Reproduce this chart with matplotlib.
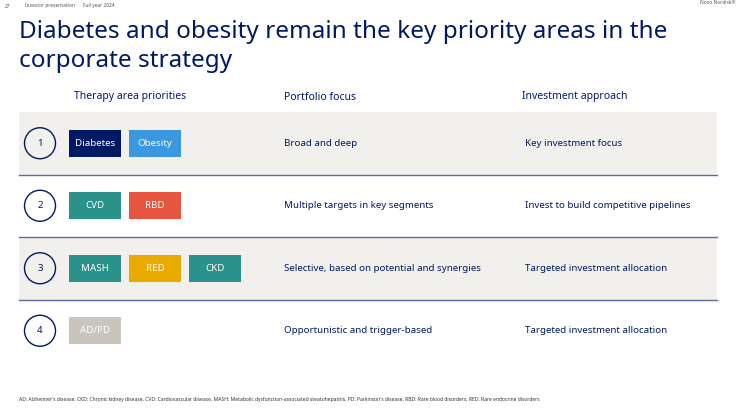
import matplotlib
matplotlib.use("Agg")
import matplotlib.pyplot as plt
from matplotlib.patches import Rectangle, Ellipse

plt.rcParams["font.family"] = "Noto Sans"

row_numbers = ["1", "2", "3", "4"]
therapy_tags = [["Diabetes", "Obesity"], ["CVD", "RBD"], ["MASH", "RED", "CKD"], ["AD/PD"]]
tag_colors = [["#001965", "#3b97de"], ["#2a918b", "#e6553f"], ["#2a918b", "#eaab00", "#2a918b"], ["#c9c4bc"]]
portfolio_focus = ["Broad and deep", "Multiple targets in key segments",
                   "Selective, based on potential and synergies", "Opportunistic and trigger-based"]
investment_approach = ["Key investment focus", "Invest to build competitive pipelines",
                       "Targeted investment allocation", "Targeted investment allocation"]
headers = ["Therapy area priorities", "Portfolio focus", "Investment approach"]

navy = "#001965"
fig = plt.figure(figsize=(7.4, 4.08), dpi=100)
ax = fig.add_axes([0, 0, 1, 1])
ax.set_xlim(0, 740); ax.set_ylim(408, 0); ax.axis("off")

ax.text(5, 6, "27", fontsize=3.5, color="#555", va="center")
ax.text(25, 6, "Investor presentation", fontsize=3.5, color="#555", va="center")
ax.text(83, 6, "Full year 2024", fontsize=3.5, color="#555", va="center")
ax.text(735, 3, "Novo Nordisk®", fontsize=3.5, color="#555", va="center", ha="right")

ax.text(19, 32, "Diabetes and obesity remain the key priority areas in the", fontsize=17.5, color=navy, va="center")
ax.text(19, 61, "corporate strategy", fontsize=17.5, color=navy, va="center")

ax.text(130, 97, headers[0], fontsize=7.5, color=navy, weight="bold", ha="center", va="center")
ax.text(284, 97, headers[1], fontsize=7.5, color=navy, weight="bold", va="center")
ax.text(522, 97, headers[2], fontsize=7.5, color=navy, weight="bold", va="center")

row_h = 62.5
top = 112
for i in range(len(row_numbers)):
    y0 = top + i * row_h
    yc = y0 + row_h / 2
    if i % 2 == 0:
        ax.add_patch(Rectangle((19, y0), 698, row_h, color="#f2f0ed", lw=0))
    if i < 3:
        ax.plot([19, 717], [y0 + row_h, y0 + row_h], color="#5b6aa3", lw=1)
    ax.add_patch(Ellipse((40, yc), 31, 31, fill=False, ec=navy, lw=1))
    ax.text(40, yc, row_numbers[i], fontsize=7, color=navy, weight="bold", ha="center", va="center")
    for j, (tag, col) in enumerate(zip(therapy_tags[i], tag_colors[i])):
        x0 = 69 + j * 60
        ax.add_patch(Rectangle((x0, yc - 13.5), 52, 27, color=col, lw=0))
        ax.text(x0 + 26, yc, tag, fontsize=7, color="white", ha="center", va="center")
    ax.text(284, yc, portfolio_focus[i], fontsize=7, color=navy, va="center")
    ax.text(525, yc, investment_approach[i], fontsize=7, color=navy, va="center")

ax.text(19, 400, "AD: Alzheimer's disease, CKD: Chronic kidney disease, CVD: Cardiovascular disease, MASH: Metabolic dysfunction-associated steatohepatitis, PD: Parkinson's disease, RBD: Rare blood disorders, RED: Rare endocrine disorders",
        fontsize=3.6, color="#333", va="center")

fig.savefig("out.png", dpi=100, facecolor="white")
